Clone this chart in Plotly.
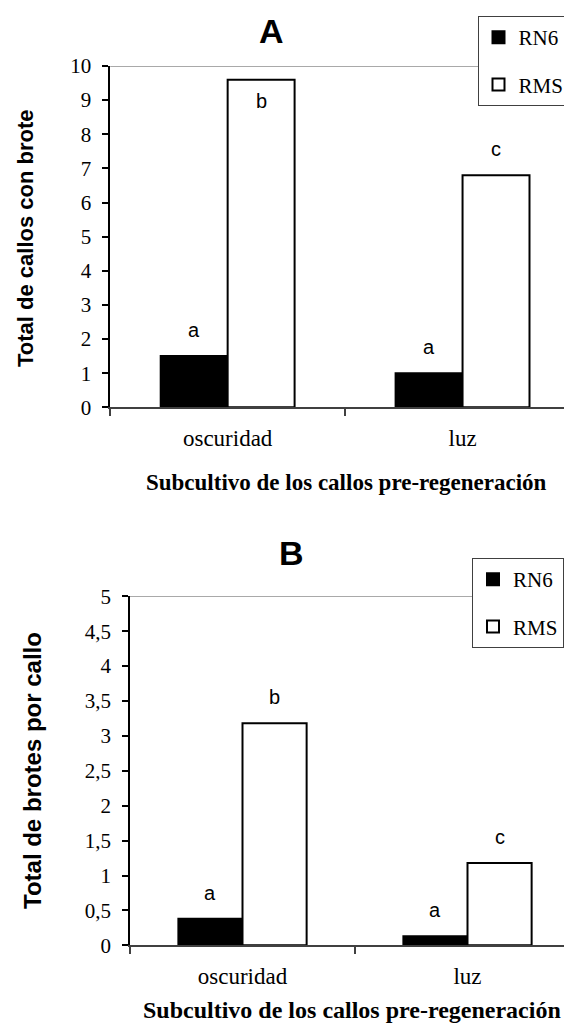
import plotly.graph_objects as go

# ---------------- data ----------------
categories = ["oscuridad", "luz"]
series_names = ["RN6", "RMS"]

# Panel A: Total de callos con brote
a_rn6 = [1.5, 1.0]
a_rms = [9.6, 6.8]
a_lab_rn6 = ["a", "a"]
a_lab_rms = ["b", "c"]
a_ticks = [0, 1, 2, 3, 4, 5, 6, 7, 8, 9, 10]

# Panel B: Total de brotes por callo
b_rn6 = [0.38, 0.13]
b_rms = [3.18, 1.18]
b_lab_rn6 = ["a", "a"]
b_lab_rms = ["b", "c"]
b_ticks = [0, 0.5, 1, 1.5, 2, 2.5, 3, 3.5, 4, 4.5, 5]

# ---------------- styles ----------------
W, H = 572, 1030
SERIF = "Liberation Serif"
SANS = "Liberation Sans"
BARGAP = 0.43
OFF = (1 - BARGAP) / 4.0

fig = go.Figure()

def add_panel(xa, ya, rn6, rms, legend):
    fig.add_trace(go.Bar(x=categories, y=rn6, name=series_names[0],
                         marker=dict(color="black", line=dict(color="black", width=2)),
                         xaxis=xa, yaxis=ya, legend=legend,
                         legendgroup=legend + "rn6"))
    fig.add_trace(go.Bar(x=categories, y=rms, name=series_names[1],
                         marker=dict(color="white", line=dict(color="black", width=2)),
                         xaxis=xa, yaxis=ya, legend=legend,
                         legendgroup=legend + "rms"))

add_panel("x", "y", a_rn6, a_rms, "legend")
add_panel("x2", "y2", b_rn6, b_rms, "legend2")

annotations = []

def add_labels(xref, yref, vals, labs, sign, ymax):
    for i, (v, t) in enumerate(zip(vals, labs)):
        inside = v > 0.9 * ymax
        annotations.append(dict(
            x=i + sign * OFF, y=v, xref=xref, yref=yref, text=t, showarrow=False,
            font=dict(family=SANS, size=20, color="black"),
            yanchor="top" if inside else "bottom",
            yshift=-8 if inside else 13))

add_labels("x", "y", a_rn6, a_lab_rn6, -1, a_ticks[-1])
add_labels("x", "y", a_rms, a_lab_rms, +1, a_ticks[-1])
add_labels("x2", "y2", b_rn6, b_lab_rn6, -1, b_ticks[-1])
add_labels("x2", "y2", b_rms, b_lab_rms, +1, b_ticks[-1])

# titles
annotations += [
    dict(text="<b>A</b>", x=263.5 / W, y=1 - 23 / H, xref="paper", yref="paper",
         showarrow=False, font=dict(family=SANS, size=34, color="black"),
         xanchor="center", yanchor="middle"),
    dict(text="<b>B</b>", x=283 / W, y=1 - 545 / H, xref="paper", yref="paper",
         showarrow=False, font=dict(family=SANS, size=34, color="black"),
         xanchor="center", yanchor="middle"),
    # y-axis titles
    dict(text="<b>Total de callos con brote</b>", x=17 / W, y=1 - 230 / H,
         xref="paper", yref="paper", showarrow=False, textangle=-90,
         font=dict(family=SANS, size=22, color="black"),
         xanchor="center", yanchor="middle"),
    dict(text="<b>Total de brotes por callo</b>", x=24 / W, y=1 - 763 / H,
         xref="paper", yref="paper", showarrow=False, textangle=-90,
         font=dict(family=SANS, size=24, color="black"),
         xanchor="center", yanchor="middle"),
    # x-axis titles
    dict(text="<b>Subcultivo de los callos pre-regeneración</b>", x=338 / W, y=1 - 474 / H,
         xref="paper", yref="paper", showarrow=False,
         font=dict(family=SERIF, size=23, color="black"),
         xanchor="center", yanchor="middle"),
    dict(text="<b>Subcultivo de los callos pre-regeneración</b>", x=344 / W, y=1 - 1002 / H,
         xref="paper", yref="paper", showarrow=False,
         font=dict(family=SERIF, size=24, color="black"),
         xanchor="center", yanchor="middle"),
]

shapes = [
    dict(type="line", xref="x domain", yref="y", x0=0, x1=1, y0=a_ticks[-1], y1=a_ticks[-1],
         line=dict(color="#8c8c8c", width=1.5), layer="below"),
    dict(type="line", xref="x2 domain", yref="y2", x0=0, x1=1, y0=b_ticks[-1], y1=b_ticks[-1],
         line=dict(color="#8c8c8c", width=1.5), layer="below"),
]

def xaxis_style(domain, anchor, size):
    return dict(domain=domain, anchor=anchor, type="category", range=[-0.5, 1.5],
                tickson="boundaries", ticks="outside", ticklen=7, tickwidth=1.5,
                tickcolor="#404040", showline=True, linecolor="#404040", linewidth=1.5,
                showgrid=False, zeroline=False, automargin=False,
                tickfont=dict(family=SERIF, size=size, color="black"),
                ticklabelstandoff=9, fixedrange=True)

def yaxis_style(domain, anchor, ticks):
    return dict(domain=domain, anchor=anchor, range=[ticks[0], ticks[-1]],
                tickmode="array", tickvals=ticks, ticks="outside", ticklen=6, tickwidth=1.5,
                tickcolor="black", showline=True, linecolor="black", linewidth=1.5,
                showgrid=False, zeroline=False, automargin=False,
                tickfont=dict(family=SERIF, size=21, color="black"),
                ticklabelstandoff=7, fixedrange=True)

legend_style = dict(bgcolor="white", bordercolor="#404040", borderwidth=1,
                    font=dict(family=SERIF, size=21, color="black"),
                    xanchor="left", yanchor="top", tracegroupgap=17,
                    traceorder="grouped", itemwidth=30)

fig.update_layout(
    width=W, height=H,
    margin=dict(l=0, r=0, t=0, b=0),
    paper_bgcolor="white", plot_bgcolor="white",
    separators=",.",
    barmode="group", bargap=BARGAP, bargroupgap=0,
    xaxis=xaxis_style([102.2 / W, 1], "y", 23),
    yaxis=yaxis_style([1 - 399.3 / H, 1 - 58 / H], "x", a_ticks),
    xaxis2=xaxis_style([122 / W, 1], "y2", 23),
    yaxis2=yaxis_style([1 - 937.3 / H, 1 - 588.3 / H], "x2", b_ticks),
    legend=dict(x=469.5 / W, y=1 - 8 / H, **legend_style),
    legend2=dict(x=464 / W, y=1 - 550 / H, **legend_style),
    annotations=annotations,
    shapes=shapes,
    showlegend=True,
)

fig.write_html("out.html")
